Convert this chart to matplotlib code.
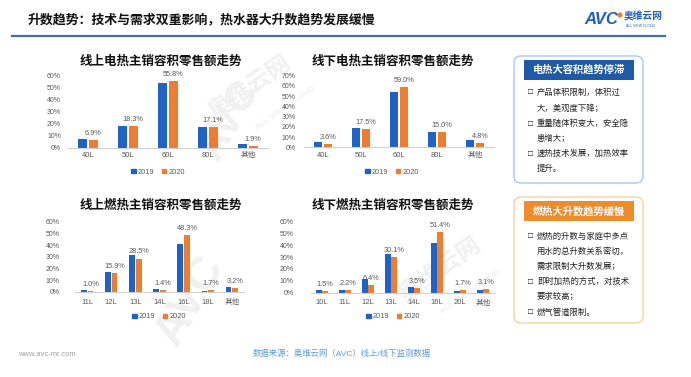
import matplotlib
matplotlib.use('Agg')
import matplotlib.pyplot as plt
from matplotlib.patches import FancyBboxPatch, Rectangle, Circle, Patch
import numpy as np

plt.rcParams['font.family'] = ['Liberation Sans', 'Noto Sans CJK SC', 'DejaVu Sans']

W, H = 691, 377

main_title = "升数趋势：技术与需求双重影响，热水器大升数趋势发展缓慢"
series_names = ["2019", "2020"]

t1_title = "线上电热主销容积零售额走势"
t1_cats = ["40L", "50L", "60L", "80L", "其他"]
t1_2019 = [7.9, 18.0, 53.9, 17.3, 3.0]
t1_2020 = [6.9, 18.3, 55.8, 17.1, 1.9]

t2_title = "线下电热主销容积零售额走势"
t2_cats = ["40L", "50L", "60L", "80L", "其他"]
t2_2019 = [5.3, 18.5, 54.1, 15.1, 7.1]
t2_2020 = [3.6, 17.5, 59.0, 15.0, 4.8]

b1_title = "线上燃热主销容积零售额走势"
b1_cats = ["11L", "12L", "13L", "14L", "16L", "18L", "其他"]
b1_2019 = [1.4, 17.2, 31.1, 2.6, 41.2, 0.6, 4.6]
b1_2020 = [1.0, 15.9, 28.5, 1.4, 48.3, 1.7, 3.2]

b2_title = "线下燃热主销容积零售额走势"
b2_cats = ["10L", "11L", "12L", "13L", "14L", "16L", "20L", "其他"]
b2_2019 = [2.1, 2.0, 11.2, 32.9, 4.4, 42.1, 1.2, 2.5]
b2_2020 = [1.5, 2.2, 6.4, 30.1, 3.5, 51.4, 1.7, 3.1]

box1_title = "电热大容积趋势停滞"
box1_lines = [("□", "产品体积限制，体积过"), ("", "大，美观度下降；"),
              ("□", "重量随体积变大，安全隐"), ("", "患增大；"),
              ("□", "速热技术发展，加热效率"), ("", "提升。")]
box2_title = "燃热大升数趋势缓慢"
box2_lines = [("□", "燃热的升数与家庭中多点"), ("", "用水的总升数关系密切，"),
              ("", "需求限制大升数发展；"), ("□", "即时加热的方式，对技术"),
              ("", "要求较高；"), ("□", "燃气管道限制。")]

source_text = "数据来源：奥维云网（AVC）线上/线下监测数据"
site_text = "www.avc-mr.com"

BLUE = "#1F63C4"
ORANGE = "#ED7D31"
GRAY = "#595959"

fig = plt.figure(figsize=(W / 100, H / 100), dpi=100)
bg = fig.add_axes([0, 0, 1, 1], zorder=0)
bg.set_xlim(0, W)
bg.set_ylim(H, 0)
bg.axis('off')

# watermarks
wm = "#F1F1F1"
bg.text(250, 88, "奥维云网", rotation=35, fontsize=17, fontweight='bold', color=wm, ha='center', va='center')
bg.text(285, 108, "ALL VIEW CLOUD", rotation=35, fontsize=6, fontweight='bold', color=wm, ha='center', va='center')
bg.text(230, 120, "AVC", rotation=60, fontsize=30, fontweight='bold', color=wm, ha='center', va='center')
bg.text(440, 270, "奥维云网", rotation=35, fontsize=17, fontweight='bold', color=wm, ha='center', va='center')
bg.text(470, 292, "ALL VIEW CLOUD", rotation=35, fontsize=6, fontweight='bold', color=wm, ha='center', va='center')
bg.text(190, 300, "AVC", rotation=60, fontsize=34, fontweight='bold', color=wm, ha='center', va='center')

# main title and rule
bg.text(28, 20, main_title, fontsize=9.3, fontweight='bold', color='#111111', ha='left', va='center')
bg.plot([12, 665], [36, 36], color='#3F6FA8', lw=1.6)

# logo
bg.text(584, 20, "AVC", fontsize=12, fontweight='bold', style='italic', color='#1F5FBF', ha='left', va='center')
bg.add_patch(Circle((620, 15), 1.8, color=ORANGE))
bg.text(624, 17, "奥维云网", fontsize=7, fontweight='bold', color='#1F5FBF', ha='left', va='center')
bg.text(626, 26, "ALL VIEW CLOUD", fontsize=2.5, color='#1F5FBF', ha='left', va='center')


def px_rect(x0, x1, ytop, ybase):
    return [x0 / W, 1 - ybase / H, (x1 - x0) / W, (ybase - ytop) / H]


def draw_chart(rect, cats, v19, v20, ymax, width, title, title_xy, legend_xy, ypad, xpad):
    ax = fig.add_axes(rect, zorder=2)
    ax.set_facecolor('none')
    x = np.arange(len(cats))
    g = 0.02
    ax.bar(x - width / 2 - g, v19, width, color=BLUE, label=series_names[0])
    ax.bar(x + width / 2 + g, v20, width, color=ORANGE, label=series_names[1])
    for xi, v in zip(x, v20):
        ax.annotate(f"{v:.1f}%", (xi + width / 2 + g, v), xytext=(0, 2.2), textcoords='offset points',
                    ha='center', va='bottom', fontsize=5.3, color=GRAY)
    ax.set_xlim(-0.5, len(cats) - 0.5)
    ax.set_ylim(0, ymax)
    ticks = np.arange(0, ymax + 1, 10)
    ax.set_yticks(ticks)
    ax.set_yticklabels([f"{int(t)}%" for t in ticks])
    ax.set_xticks(x)
    ax.set_xticklabels(cats)
    for s in ['top', 'right', 'left']:
        ax.spines[s].set_visible(False)
    ax.spines['bottom'].set_color('#D0D0D0')
    ax.spines['bottom'].set_linewidth(0.8)
    ax.tick_params(axis='y', length=0, labelsize=5, labelcolor=GRAY, pad=ypad)
    ax.tick_params(axis='x', length=0, labelsize=5.5, labelcolor=GRAY, pad=xpad)
    bg.text(title_xy[0], title_xy[1], title, fontsize=9, fontweight='bold', color='#111111',
            ha='center', va='center')
    handles = [Patch(color=BLUE, label=series_names[0]), Patch(color=ORANGE, label=series_names[1])]
    ax.legend(handles=handles, loc='center', bbox_to_anchor=(legend_xy[0] / W, 1 - legend_xy[1] / H),
              bbox_transform=fig.transFigure, ncol=2, frameon=False, fontsize=5.3,
              handlelength=0.6, handleheight=0.6, handletextpad=0.3, columnspacing=1.0,
              labelcolor=GRAY)
    return ax


draw_chart(px_rect(68, 268, 76, 148), t1_cats, t1_2019, t1_2020, 60, 0.22,
           t1_title, (161, 62), (158, 172), 5, 3)
draw_chart(px_rect(304, 494, 75.5, 147.5), t2_cats, t2_2019, t2_2020, 70, 0.22,
           t2_title, (393, 62), (392, 172), 6, 3)
draw_chart(px_rect(75, 244, 221.5, 292), b1_cats, b1_2019, b1_2020, 60, 0.24,
           b1_title, (161, 206), (159, 317), 11, 5)
draw_chart(px_rect(310.5, 494.5, 221.5, 292.5), b2_cats, b2_2019, b2_2020, 60, 0.24,
           b2_title, (393, 206), (393, 317), 12, 5)


def draw_box(y0, y1, border, head_color, head_title, lines, line_ys):
    bg.add_patch(FancyBboxPatch((514, y0), 129, y1 - y0, boxstyle='round,pad=0,rounding_size=7',
                                fc='white', ec=border, lw=1.0, zorder=3))
    bg.add_patch(Rectangle((524, y0 + 4), 110, 20, fc=head_color, ec='none', zorder=4))
    bg.text(579, y0 + 14, head_title, fontsize=7.4, fontweight='bold', color='white',
            ha='center', va='center', zorder=5)
    for (b, t), yy in zip(lines, line_ys):
        if b:
            bg.text(528, yy, b, fontsize=6, fontweight='bold', color='#111111', ha='left', va='center', zorder=5)
        bg.text(537, yy, t, fontsize=6, color='#222222', ha='left', va='center', zorder=5)


draw_box(56, 183, '#A9C7E8', '#1F5AA6', box1_title, box1_lines, [93, 108.5, 124, 139, 154, 169])
draw_box(197, 323, '#F3D3A2', '#EE8B2B', box2_title, box2_lines, [237, 252, 267, 282, 297, 313])

bg.text(18, 354, site_text, fontsize=5.5, color='#A0A0A0', ha='left', va='center')
bg.text(342, 354, source_text, fontsize=6, color='#5B9BD5', ha='center', va='center')

fig.savefig('out.png', dpi=100)
